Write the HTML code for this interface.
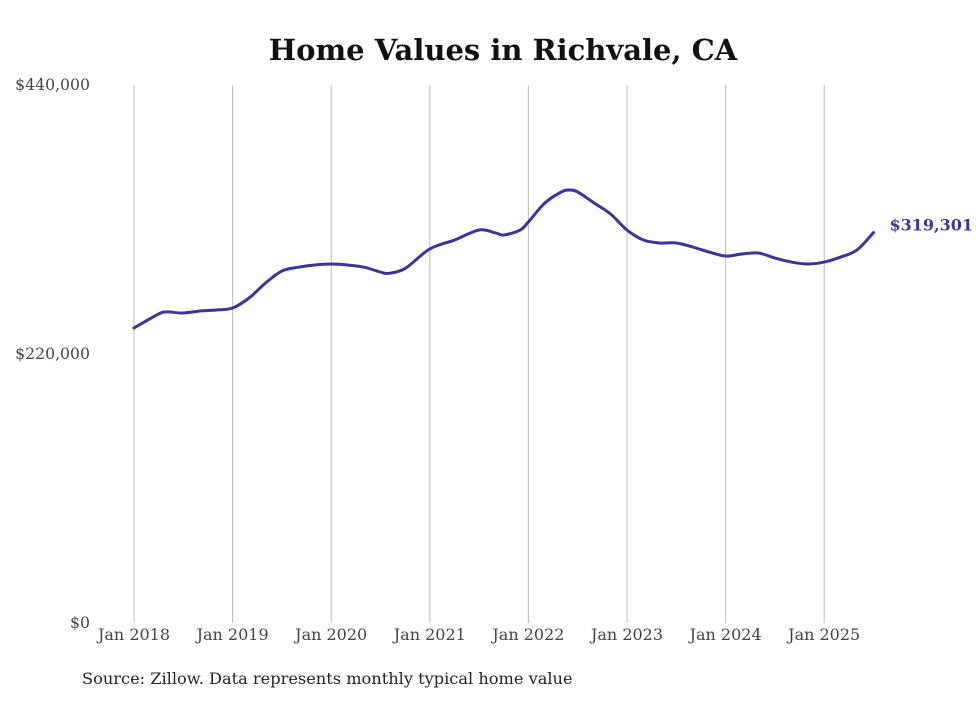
<!DOCTYPE html>
<html><head><meta charset="utf-8"><style>
body{margin:0;background:#fff;width:980px;height:699px;overflow:hidden;font-family:"DejaVu Serif","Liberation Serif",serif}
</style></head><body>
<svg id="chart" width="980" height="699" xmlns="http://www.w3.org/2000/svg">
<text x="503" y="60" text-anchor="middle" font-family="DejaVu Serif, Liberation Serif, serif" font-weight="bold" font-size="29" fill="#111">Home Values in Richvale, CA</text>
<g id="grid"></g><g id="yaxis"></g><g id="xaxis"></g><g id="series"></g>
<text x="82" y="684" font-family="DejaVu Serif, Liberation Serif, serif" font-size="16.2" fill="#222">Source: Zillow. Data represents monthly typical home value</text>
</svg>
<script>
const yTicks=[0,220000,440000];
const yTickLabels=["$0","$220,000","$440,000"];
const xTickYears=[2018,2019,2020,2021,2022,2023,2024,2025];
const months=[0,3,4,6,8,10,12,14,16,18,20,22,24,26,28,30,31,33,36,39,42,44,45,47,48,50,52,53,54,56,58,60,62,64,66,68,70,72,74,76,78,80,82,84,86,88,90];
const values=[241300,252700,254400,253500,255200,256000,257600,265800,278000,287900,291000,292800,293600,292800,291000,287000,286000,290000,305900,313200,321400,319000,317300,321400,328000,343500,352500,354100,352500,343500,334500,321400,313200,310800,310800,307500,303400,300100,301800,302600,298500,295200,293600,295200,299300,305100,319301];
const lastLabel="$319,301";
const NS="http://www.w3.org/2000/svg";
const x=m=>134+m*(690.2/84);
const y=v=>623-v/440000*538;
function mk(tag,attrs,parent){const e=document.createElementNS(NS,tag);for(const k in attrs)e.setAttribute(k,attrs[k]);parent.appendChild(e);return e;}
const grid=document.getElementById('grid'),ya=document.getElementById('yaxis'),xa=document.getElementById('xaxis'),se=document.getElementById('series');
xTickYears.forEach((yr,i)=>{
  const xx=x((yr-2018)*12);
  const l=mk('line',{x1:xx,x2:xx,y1:85,y2:623,stroke:'#bbb','stroke-width':1},grid);
  
  
  const t=mk('text',{x:xx,y:640,'text-anchor':'middle','font-size':16,fill:'#444'},xa);
  t.textContent='Jan '+yr;
  
  
});
yTicks.forEach((v,i)=>{
  const t=mk('text',{x:90,y:y(v)+5,'text-anchor':'end','font-size':15.7,fill:'#444'},ya);
  t.textContent=yTickLabels[i];
  
  
});
const pts=months.map((m,i)=>[x(m),y(values[i])]);
let d='M'+pts[0][0]+','+pts[0][1];
for(let i=0;i<pts.length-1;i++){
  const p0=pts[Math.max(0,i-1)],p1=pts[i],p2=pts[i+1],p3=pts[Math.min(pts.length-1,i+2)];
  const c1=[p1[0]+(p2[0]-p0[0])/6,p1[1]+(p2[1]-p0[1])/6],c2=[p2[0]-(p3[0]-p1[0])/6,p2[1]-(p3[1]-p1[1])/6];
  d+=' C'+c1+' '+c2+' '+p2;
}
const path=mk('path',{d:d,fill:'none',stroke:'#3c3499','stroke-width':3,'stroke-linejoin':'round','stroke-linecap':'round'},se);


const last=pts[pts.length-1];
const lt=mk('text',{x:last[0]+16,y:last[1]-2,'font-size':16,'font-weight':'bold',fill:'#3c3499'},se);
lt.textContent=lastLabel;


</script>
</body></html>
